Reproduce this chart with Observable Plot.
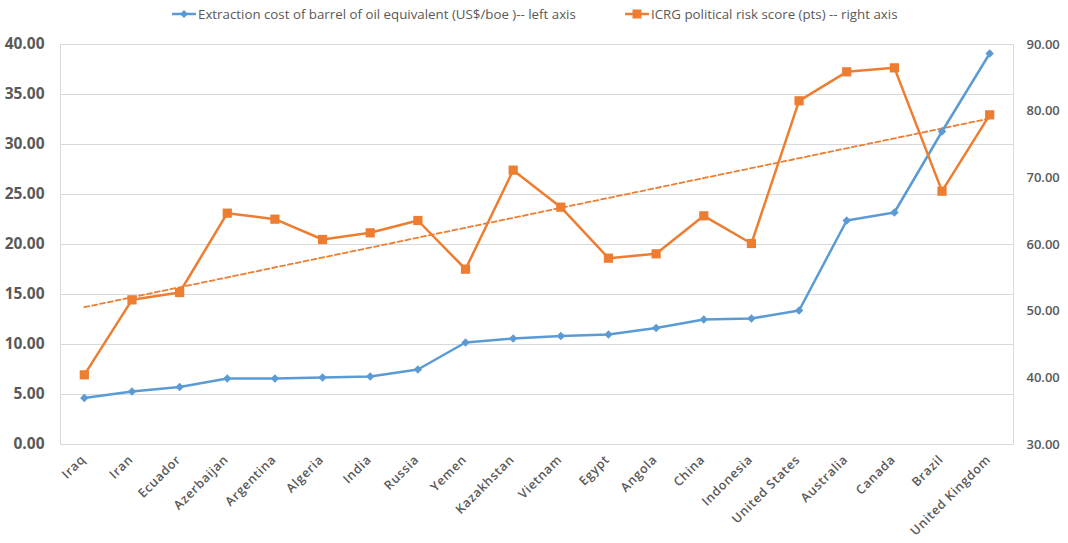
<!DOCTYPE html>
<html>
<head>
<meta charset="utf-8">
<script src="https://cdn.jsdelivr.net/npm/d3@7"></script>
<script src="https://cdn.jsdelivr.net/npm/@observablehq/plot@0.6"></script>
<style>
  body { margin: 0; background: #fff; font-family: "Open Sans", sans-serif; }
  #wrap { position: relative; width: 1068px; height: 543px; }
  #legend { position: relative; height: 30px; width: 1068px; color: #595959; font-size: 13.3px; }
  .item { position: absolute; top: 5px; display: flex; align-items: center; white-space: nowrap; }
  .item svg { margin-right: 2px; }
  g[aria-label="x-axis tick label"] text { letter-spacing: 0.7px; }
</style>
</head>
<body>
<div id="wrap">
  <div id="legend">
    <div class="item" style="left:172px">
      <svg width="24" height="12"><line x1="0" y1="6" x2="24" y2="6" stroke="#5b9bd5" stroke-width="2.5"/><path d="M12,2 L16,6 L12,10 L8,6 Z" fill="#5b9bd5"/></svg>
      <span>Extraction cost of barrel of oil equivalent (US$/boe )-- left axis</span>
    </div>
    <div class="item" style="left:625px">
      <svg width="24" height="12"><line x1="0" y1="6" x2="24" y2="6" stroke="#ed7d31" stroke-width="2.5"/><rect x="7.5" y="1.5" width="9" height="9" fill="#ed7d31"/></svg>
      <span>ICRG political risk score (pts) -- right axis</span>
    </div>
  </div>
  <div id="chart"></div>
</div>
<script>
const countries = ["Iraq","Iran","Ecuador","Azerbaijan","Argentina","Algeria","India","Russia","Yemen","Kazakhstan","Vietnam","Egypt","Angola","China","Indonesia","United States","Australia","Canada","Brazil","United Kingdom"];
const extractionCost = [4.65,5.3,5.75,6.6,6.6,6.7,6.8,7.5,10.2,10.6,10.85,11.0,11.65,12.5,12.6,13.4,22.4,23.2,31.3,39.1];
const politicalRisk = [40.45,51.7,52.8,64.7,63.8,60.75,61.75,63.6,56.3,71.15,65.6,57.95,58.6,64.3,60.15,81.55,85.9,86.5,68.0,79.45];
const leftTicks = [0,5,10,15,20,25,30,35,40];
const rightTicks = [30,40,50,60,70,80,90];

// right axis (30..90) mapped onto left axis (0..40)
const toLeft = v => (v - 30) * 40 / 60;
const fromLeft = d => d * 60 / 40 + 30;

const costData = countries.map((c, i) => ({i, c, v: extractionCost[i]}));
const riskData = countries.map((c, i) => ({i, c, v: toLeft(politicalRisk[i])}));

const blue = "#5b9bd5", orange = "#ed7d31", grid = "#d9d9d9", textCol = "#595959";

const chart = Plot.plot({
  width: 1068,
  height: 513,
  marginTop: 14,
  marginBottom: 99,
  marginLeft: 60,
  marginRight: 55,
  style: {fontFamily: "'Open Sans', sans-serif", color: textCol, background: "white"},
  x: {type: "linear", domain: [-0.5, 19.5]},
  y: {domain: [0, 40], label: null},
  marks: [
    Plot.gridY(leftTicks, {stroke: grid, strokeOpacity: 1, strokeWidth: 1}),
    Plot.frame({stroke: grid, strokeWidth: 1}),
    Plot.axisY(leftTicks, {anchor: "left", tickSize: 0, tickPadding: 16, tickFormat: d => d.toFixed(2), fontSize: 15.5, fontWeight: "bold", fill: textCol, label: null}),
    Plot.axisY(rightTicks.map(toLeft), {anchor: "right", tickSize: 0, tickPadding: 13, tickFormat: d => fromLeft(d).toFixed(2), fontSize: 13, fontWeight: 600, fill: textCol, label: null}),
    Plot.axisX(d3.range(countries.length), {anchor: "bottom", tickSize: 0, tickPadding: 13, dx: -1, tickRotate: -45, tickFormat: i => countries[i], fontSize: 12.5, fontWeight: 600, fill: textCol, label: null}),
    Plot.linearRegressionY(riskData, {x: "i", y: "v", stroke: orange, strokeWidth: 1.8, strokeDasharray: "5,3", ci: 0}),
    Plot.line(costData, {x: "i", y: "v", stroke: blue, strokeWidth: 2.5}),
    Plot.dot(costData, {x: "i", y: "v", symbol: "diamond2", r: 3.8, fill: blue, stroke: "none"}),
    Plot.line(riskData, {x: "i", y: "v", stroke: orange, strokeWidth: 2.5}),
    Plot.dot(riskData, {x: "i", y: "v", symbol: "square", r: 5.2, fill: orange, stroke: "none"})
  ]
});
document.getElementById("chart").appendChild(chart);
</script>
</body>
</html>
